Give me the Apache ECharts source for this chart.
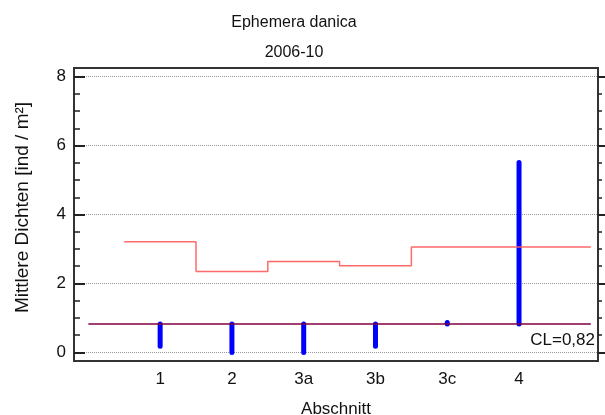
<!DOCTYPE html>
<html>
<head>
<meta charset="utf-8">
<script src="https://cdn.jsdelivr.net/npm/echarts@6/dist/echarts.min.js"></script>
<style>
  html, body { margin: 0; padding: 0; background: #fff; }
  #chart { width: 605px; height: 415px; }
</style>
</head>
<body>
<div id="chart"></div>
<script>
const categories = ['1', '2', '3a', '3b', '3c', '4']
const rangeLow = [0.18, 0, 0, 0.18, 0.82, 0.82]
const rangeHigh = [0.82, 0.82, 0.82, 0.82, 0.87, 5.51]
const uclValues = [3.21, 2.35, 2.64, 2.51, 3.06, 3.06]
const clValue = 0.82
const yMajorTicks = [0, 2, 4, 6, 8]
const yMinorTicks = [0.5, 1, 1.5, 2.5, 3, 3.5, 4.5, 5, 5.5, 6.5, 7, 7.5]

const FONT = 'Liberation Sans, Arial, sans-serif'
const catPos = categories.map((c, i) => i + 1)

// Treppenlinie (obere Grenze) je Abschnitt, letzter Abschnitt verlängert
const uclData = uclValues.map((v, i) => [catPos[i] - 0.5, v])
uclData.push([7, uclValues[uclValues.length - 1]])

const rangeData = categories.map((c, i) => [catPos[i], rangeLow[i], rangeHigh[i]])

const chart = echarts.init(document.getElementById('chart'))

const baseY = {
  type: 'value',
  min: -0.25,
  max: 8.25,
  offset: 0,
  axisLine: { show: false, onZero: false },
  splitLine: { show: false },
  axisLabel: { show: false }
}

const option = {
  animation: false,
  textStyle: { fontFamily: FONT },
  title: [
    { text: 'Ephemera danica', left: 289, top: 10, textAlign: 'center',
      textStyle: { fontSize: 16, fontWeight: 'normal', color: '#111', fontFamily: FONT } },
    { text: '2006-10', left: 289, top: 40, textAlign: 'center',
      textStyle: { fontSize: 16, fontWeight: 'normal', color: '#111', fontFamily: FONT } }
  ],
  grid: {
    left: 74,
    right: 7,
    top: 68,
    bottom: 54,
    outerBoundsMode: 'none',
    containLabel: false,
    show: true,
    borderColor: '#333',
    borderWidth: 2
  },
  xAxis: {
    type: 'value',
    min: -0.2,
    max: 7.1,
    name: 'Abschnitt',
    nameLocation: 'middle',
    nameGap: 40,
    nameTextStyle: { fontSize: 17, color: '#111', fontFamily: FONT },
    axisLine: { show: false, onZero: false },
    axisTick: { show: false },
    splitLine: { show: false },
    axisLabel: {
      customValues: catPos,
      margin: 10,
      fontSize: 17,
      color: '#111',
      formatter: v => categories[Math.round(v) - 1] || ''
    }
  },
  yAxis: [
    Object.assign({}, baseY, {
      position: 'left',
      name: 'Mittlere Dichten [ind / m²]',
      nameLocation: 'middle',
      nameGap: 42,
      nameTextStyle: { fontSize: 19, color: '#111', fontFamily: FONT, padding: [0, 0, 0, 14] },
      axisTick: { show: true, inside: true, length: 11, customValues: yMajorTicks,
        lineStyle: { color: '#222', width: 2 } },
      axisLabel: { show: true, customValues: yMajorTicks, margin: 8, fontSize: 17, color: '#111' },
      splitLine: { show: true, lineStyle: { color: '#999', type: [1, 1], width: 1 } }
    }),
    Object.assign({}, baseY, {
      position: 'left',
      axisTick: { show: true, inside: true, length: 6, customValues: yMinorTicks,
        lineStyle: { color: '#222', width: 1.5 } }
    }),
    Object.assign({}, baseY, {
      position: 'right',
      axisTick: { show: true, inside: false, length: 7, customValues: yMajorTicks,
        lineStyle: { color: '#222', width: 2 } }
    }),
    Object.assign({}, baseY, {
      position: 'right',
      axisTick: { show: true, inside: false, length: 4, customValues: yMinorTicks,
        lineStyle: { color: '#222', width: 1.5 } }
    })
  ],
  graphic: [{
    type: 'text',
    right: 10,
    top: 332,
    style: { text: 'CL=0,82', fontSize: 17, fill: '#111', font: '17px ' + FONT }
  }],
  series: [
    {
      name: 'UCL',
      type: 'line',
      step: 'end',
      symbol: 'none',
      data: uclData,
      lineStyle: { color: '#ff5a5a', width: 1.5, opacity: 0.9 }
    },
    {
      name: 'CL',
      type: 'line',
      symbol: 'none',
      data: [[0, clValue], [7, clValue]],
      lineStyle: { color: '#800040', width: 1.5 }
    },
    {
      name: 'Bereich',
      type: 'custom',
      data: rangeData,
      encode: { x: 0, y: [1, 2] },
      renderItem: (params, api) => {
        const p1 = api.coord([api.value(0), api.value(1)])
        const p2 = api.coord([api.value(0), api.value(2)])
        return {
          type: 'line',
          shape: { x1: p1[0], y1: p1[1], x2: p2[0], y2: p2[1] },
          style: { stroke: '#0000ff', lineWidth: 5, lineCap: 'round' }
        }
      }
    }
  ]
}

chart.setOption(option)
</script>
</body>
</html>
